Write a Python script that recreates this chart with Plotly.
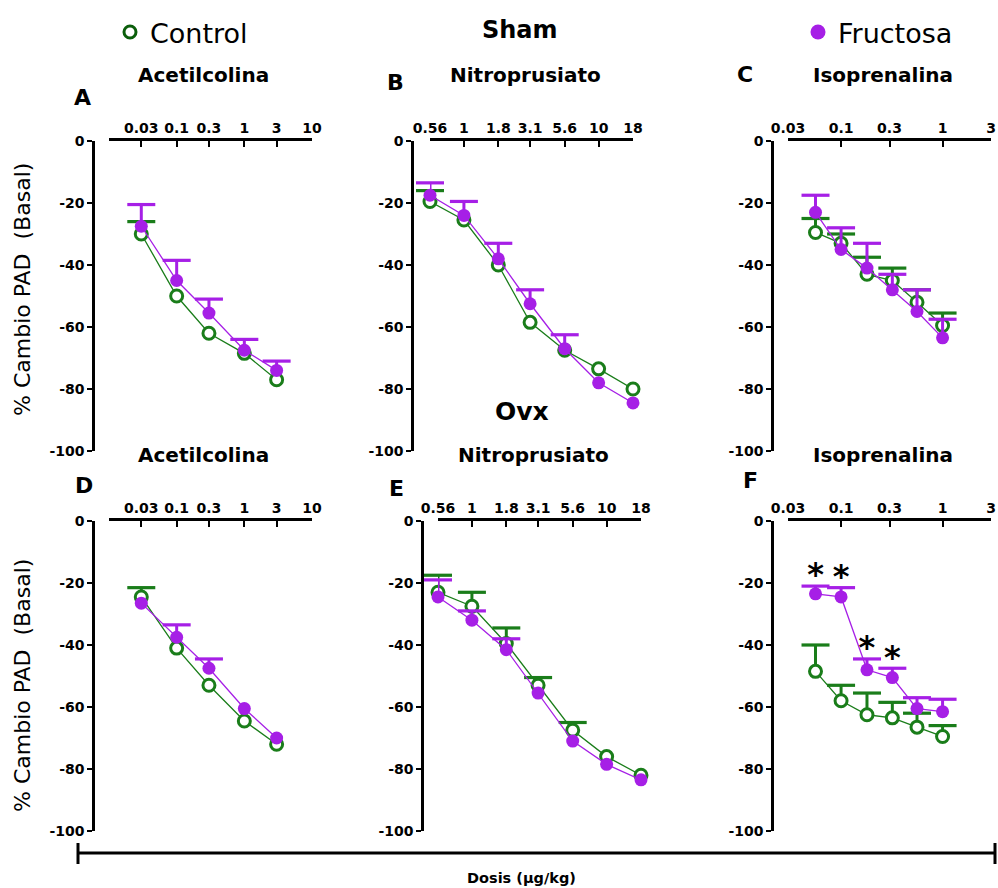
import math
import plotly.graph_objects as go

# figure size (page body margin removed so figure pixels == screen pixels)
FW, FH = 998, 888

# ---------------- data ----------------
dose_ach = [0.03, 0.1, 0.3, 1, 3]
dose_snp = [0.56, 1, 1.8, 3.1, 5.6, 10, 18]
dose_iso = [0.056, 0.1, 0.18, 0.32, 0.56, 1]

ticks_ach = [0.03, 0.1, 0.3, 1, 3, 10]
ticks_snp = [0.56, 1, 1.8, 3.1, 5.6, 10, 18]
ticks_iso = [0.03, 0.1, 0.3, 1, 3]
ticklabels_ach = ["0.03", "0.1", "0.3", "1", "3", "10"]
ticklabels_snp = ["0.56", "1", "1.8", "3.1", "5.6", "10", "18"]
ticklabels_iso = ["0.03", "0.1", "0.3", "1", "3"]

yticks = [0, -20, -40, -60, -80, -100]
yticklabels = ["0", "-20", "-40", "-60", "-80", "-100"]

# Sham  (upper SEM; errors hidden behind the symbol are read as 0)
sham_ach_ctrl = [-30, -50, -62, -68.5, -77]
sham_ach_ctrl_err = [4, 0, 0, 0, 0]
sham_ach_fru = [-27.5, -45, -55.5, -67.5, -74]
sham_ach_fru_err = [7, 6.5, 4.5, 3.5, 3]

sham_snp_ctrl = [-19.5, -25.5, -40, -58.5, -67.5, -73.5, -80]
sham_snp_ctrl_err = [3.5, 0, 0, 0, 0, 0, 0]
sham_snp_fru = [-17.5, -24, -38, -52.5, -67, -78, -84.5]
sham_snp_fru_err = [4, 4.5, 5, 4.5, 4.5, 0, 0]

sham_iso_ctrl = [-29.5, -33, -43, -45, -52, -59.5]
sham_iso_ctrl_err = [4.5, 3, 5.5, 4, 4, 4]
sham_iso_fru = [-23, -35, -41, -48, -55, -63.5]
sham_iso_fru_err = [5.5, 7, 8, 5, 7, 6]

# Ovx
ovx_ach_ctrl = [-24.5, -41, -53, -64.5, -72]
ovx_ach_ctrl_err = [3, 0, 0, 0, 0]
ovx_ach_fru = [-26.5, -37.5, -47.5, -60.5, -70]
ovx_ach_fru_err = [0, 4, 3, 0, 0]

ovx_snp_ctrl = [-23, -27.5, -39.5, -53, -67.5, -76, -82]
ovx_snp_ctrl_err = [5.5, 4.5, 5, 2.5, 2.5, 0, 0]
ovx_snp_fru = [-24.5, -32, -41.5, -55.5, -71, -78.5, -83.5]
ovx_snp_fru_err = [5.5, 3, 3.5, 0, 0, 0, 0]

ovx_iso_ctrl = [-48.5, -58, -62.5, -63.5, -66.5, -69.5]
ovx_iso_ctrl_err = [8.5, 5, 7, 5, 4.5, 3.5]
ovx_iso_fru = [-23.5, -24.5, -48, -50.5, -60.5, -61.5]
ovx_iso_fru_err = [2.5, 3, 3.5, 3, 3.5, 4]

# significance stars (panel F, Fructosa vs Control)
stars_iso_ovx = [True, True, True, True, False, False]

# ---------------- style ----------------
GREEN = "#1a7d1a"
PURPLE = "#a61fe6"
FONT = "DejaVu Sans, Liberation Sans, Arial, sans-serif"
STAR_GAP = 2.8  # gap (in y units) between error cap and star

panels = [
    ("A", "Acetilcolina", dose_ach, ticks_ach, ticklabels_ach, 0.01, 10, 93, 109, 312, 141,
     sham_ach_ctrl, sham_ach_ctrl_err, sham_ach_fru, sham_ach_fru_err),
    ("B", "Nitroprusiato", dose_snp, ticks_snp, ticklabels_snp, 0.56, 18, 412, 430, 633, 141,
     sham_snp_ctrl, sham_snp_ctrl_err, sham_snp_fru, sham_snp_fru_err),
    ("C", "Isoprenalina", dose_iso, ticks_iso, ticklabels_iso, 0.03, 3, 772, 788, 991, 141,
     sham_iso_ctrl, sham_iso_ctrl_err, sham_iso_fru, sham_iso_fru_err),
    ("D", "Acetilcolina", dose_ach, ticks_ach, ticklabels_ach, 0.01, 10, 93, 109, 312, 521,
     ovx_ach_ctrl, ovx_ach_ctrl_err, ovx_ach_fru, ovx_ach_fru_err),
    ("E", "Nitroprusiato", dose_snp, ticks_snp, ticklabels_snp, 0.56, 18, 422, 438, 641, 521,
     ovx_snp_ctrl, ovx_snp_ctrl_err, ovx_snp_fru, ovx_snp_fru_err),
    ("F", "Isoprenalina", dose_iso, ticks_iso, ticklabels_iso, 0.03, 3, 772, 788, 991, 521,
     ovx_iso_ctrl, ovx_iso_ctrl_err, ovx_iso_fru, ovx_iso_fru_err),
]
PLOT_H = 310  # pixels for 0..-100

letter_pos = [(82, 97), (395, 83), (745, 75), (84, 485), (396, 488), (750, 480)]
title_pos = [(203, 75), (525, 75), (883, 75), (203, 455), (533, 455), (883, 455)]

fig = go.Figure()
layout = {}
annotations = []


def px_x(p):
    return p / FW


def px_y(p):
    return 1 - p / FH


TICKFONT = dict(family=FONT, size=14, color="black", weight="bold")


def add_upper_errors(doses, means, errs, color, xa, ya):
    """One-sided (upward) error bars: a cap marker at mean+err with a stem
    (error bar without caps) reaching down to the mean; skipped where err is 0."""
    cx = [d for d, e in zip(doses, errs) if e]
    cy = [m + e for m, e in zip(means, errs) if e]
    ce = [e for e in errs if e]
    fig.add_trace(go.Scatter(
        x=cx, y=cy, xaxis=xa, yaxis=ya, mode="markers",
        marker=dict(symbol="line-ew", size=20, line=dict(color=color, width=3.2)),
        error_y=dict(type="data", symmetric=False, array=[0] * len(ce), arrayminus=ce,
                     color=color, thickness=3, width=0),
        cliponaxis=False, showlegend=False, hoverinfo="skip"))


for i, (letter, title, doses, tv, tt, xlo, xhi, ypx, x0, x1, top,
        ctrl, ctrl_err, fru, fru_err) in enumerate(panels):
    n = i + 1
    xa = "x" if n == 1 else f"x{n}"
    ya = "y" if n == 1 else f"y{n}"
    xkey = "xaxis" if n == 1 else f"xaxis{n}"
    ykey = "yaxis" if n == 1 else f"yaxis{n}"

    layout[xkey] = dict(
        type="log", range=[math.log10(xlo), math.log10(xhi)],
        domain=[px_x(x0), px_x(x1)], anchor=ya, side="top",
        tickvals=tv, ticktext=tt, ticks="inside", ticklen=6, tickwidth=2,
        tickcolor="black", showline=True, linewidth=2.5, linecolor="black",
        showgrid=False, zeroline=False, tickangle=0, automargin=False,
        tickfont=TICKFONT,
    )
    layout[ykey] = dict(
        range=[-100, 0], domain=[px_y(top + PLOT_H), px_y(top)],
        anchor="free", position=px_x(ypx), tickvals=yticks, ticktext=yticklabels,
        ticks="outside", ticklen=5, tickwidth=2, tickcolor="black",
        showline=True, linewidth=2.5, linecolor="black",
        showgrid=False, zeroline=False, automargin=False,
        tickfont=TICKFONT,
    )

    add_upper_errors(doses, ctrl, ctrl_err, GREEN, xa, ya)
    fig.add_trace(go.Scatter(
        x=doses, y=ctrl, xaxis=xa, yaxis=ya, mode="lines+markers",
        line=dict(color=GREEN, width=1.3),
        marker=dict(symbol="circle", size=12, color="white",
                    line=dict(color=GREEN, width=3)),
        cliponaxis=False, showlegend=False,
    ))
    add_upper_errors(doses, fru, fru_err, PURPLE, xa, ya)
    fig.add_trace(go.Scatter(
        x=doses, y=fru, xaxis=xa, yaxis=ya, mode="lines+markers",
        line=dict(color=PURPLE, width=1.3),
        marker=dict(symbol="circle", size=13, color=PURPLE),
        cliponaxis=False, showlegend=False,
    ))

    lx, ly = letter_pos[i]
    annotations.append(dict(text=letter, x=px_x(lx), y=px_y(ly), xref="paper", yref="paper",
                            showarrow=False, xanchor="center", yanchor="middle",
                            font=dict(family=FONT, size=22, color="black", weight="bold")))
    tx, ty = title_pos[i]
    annotations.append(dict(text=title, x=px_x(tx), y=px_y(ty), xref="paper", yref="paper",
                            showarrow=False, xanchor="center", yanchor="middle",
                            font=dict(family=FONT, size=20, color="black", weight="bold")))

# stars in panel F
star_x = [d for d, s in zip(dose_iso, stars_iso_ovx) if s]
star_y = [m + e + STAR_GAP for m, e, s in zip(ovx_iso_fru, ovx_iso_fru_err, stars_iso_ovx) if s]
fig.add_trace(go.Scatter(
    x=star_x, y=star_y, xaxis="x6", yaxis="y6", mode="text", text=["*"] * len(star_x),
    textposition="middle center", cliponaxis=False, showlegend=False,
    textfont=dict(family=FONT, size=32, color="black", weight="bold"),
))

# legend entries
fig.add_trace(go.Scatter(
    x=[None], y=[None], mode="markers", name="Control", legend="legend",
    marker=dict(symbol="circle", size=12, color="white", line=dict(color="#0b5e0b", width=3)),
))
fig.add_trace(go.Scatter(
    x=[None], y=[None], mode="markers", name="Fructosa", legend="legend2",
    marker=dict(symbol="circle", size=15, color=PURPLE),
))


def label(text, x, y, size, bold=False, angle=0):
    return dict(text=text, x=px_x(x), y=px_y(y), xref="paper", yref="paper",
                showarrow=False, xanchor="center", yanchor="middle", textangle=angle,
                font=dict(family=FONT, size=size, color="black",
                          weight="bold" if bold else "normal"))


annotations += [
    label("Sham", 520, 30, 24, bold=True),
    label("Ovx", 522, 411, 25, bold=True),
    label("% Cambio PAD  (Basal)", 22, 290, 22, angle=-90),
    label("% Cambio PAD  (Basal)", 22, 686, 22, angle=-90),
    label("Dosis (µg/kg)", 521, 878, 14.5, bold=True),
]


def hline(x0, x1, y):
    return dict(type="line", xref="paper", yref="paper", x0=px_x(x0), x1=px_x(x1),
                y0=px_y(y), y1=px_y(y), line=dict(color="black", width=3))


def vline(x, y0, y1):
    return dict(type="line", xref="paper", yref="paper", x0=px_x(x), x1=px_x(x),
                y0=px_y(y0), y1=px_y(y1), line=dict(color="black", width=3))


shapes = [hline(78, 995, 853), vline(78, 843, 864), vline(995, 843, 864)]

fig.update_layout(
    width=FW, height=FH, margin=dict(l=0, r=0, t=0, b=0, autoexpand=False),
    plot_bgcolor="white", paper_bgcolor="white",
    annotations=annotations, shapes=shapes,
    legend=dict(x=px_x(110), y=px_y(8), xanchor="left", yanchor="top",
                font=dict(family=FONT, size=27, color="black"), bgcolor="rgba(0,0,0,0)"),
    legend2=dict(x=px_x(798), y=px_y(8), xanchor="left", yanchor="top",
                 font=dict(family=FONT, size=27, color="black"), bgcolor="rgba(0,0,0,0)"),
    **layout,
)

fig.write_html(
    "out.html",
    config={"displayModeBar": False},
    post_script="document.body.style.margin='0';document.body.style.overflow='hidden';",
)
